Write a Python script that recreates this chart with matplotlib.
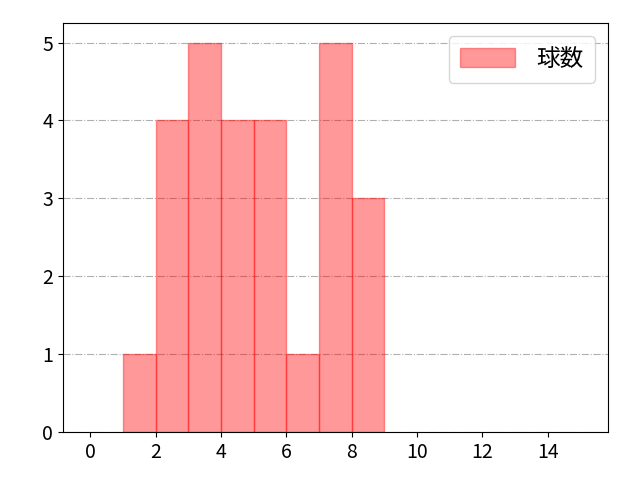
import numpy as np
import matplotlib
matplotlib.use('Agg')
import matplotlib.pyplot as plt

plt.rcParams['font.family'] = ['Noto Sans CJK JP', 'DejaVu Sans']

# dati dell'istogramma
bin_edges = [1, 2, 3, 4, 5, 6, 7, 8, 9]
counts = [1, 4, 5, 4, 4, 1, 5, 3]
label = '球数'

fig, ax = plt.subplots(figsize=(6.4, 4.8), dpi=100)
ax.hist(bin_edges[:-1], bins=bin_edges, weights=counts,
        color='red', alpha=0.4, edgecolor='red', label=label)
ax.set_xlim(-0.85, 15.85)
ax.set_ylim(0, 5.25)
ax.set_xticks(np.arange(0, 15, 2))
ax.set_yticks(range(0, 6))
ax.tick_params(labelsize=14)
ax.grid(axis='y', linestyle='-.', color='#b0b0b0')
ax.set_axisbelow(True)
ax.legend(loc='upper right', fontsize=17, handlelength=2.3, handleheight=0.9,
          handletextpad=0.9, borderpad=0.5, borderaxespad=0.55)
fig.subplots_adjust(left=0.098, right=0.95, top=0.952, bottom=0.1)
plt.savefig('out.png')
